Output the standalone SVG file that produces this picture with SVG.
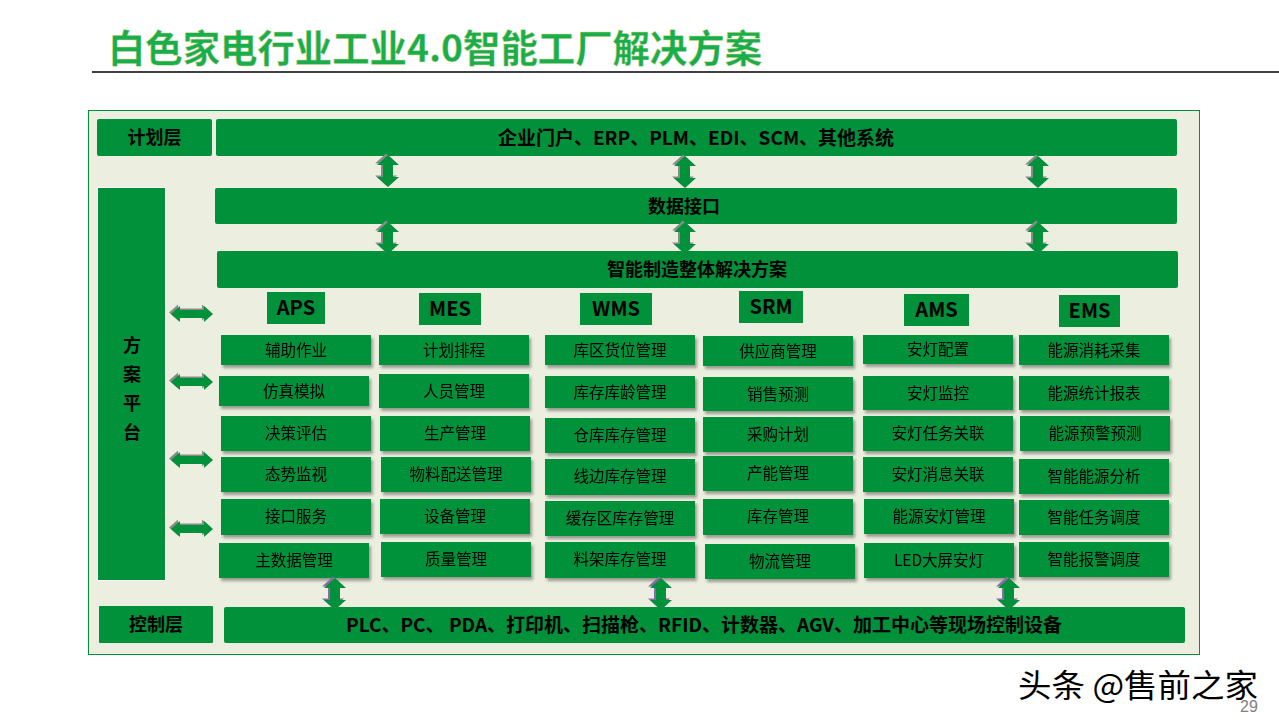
<svg xmlns="http://www.w3.org/2000/svg" width="1279" height="720" viewBox="0 0 1279 720">
<defs>
<style>
.g{fill:#00913A}
.hd{font-family:"Noto Sans CJK SC","Liberation Sans",sans-serif;font-weight:bold;font-size:18px;fill:#000;text-anchor:middle}
.bar{font-size:19px}
.it{font-family:"Noto Sans CJK SC","Liberation Sans",sans-serif;font-size:15.5px;fill:#000;text-anchor:middle}
.sys{font-family:"Noto Sans CJK SC","Liberation Sans",sans-serif;font-weight:bold;font-size:20px;fill:#000;text-anchor:middle}
</style>
<filter id="sh" x="-5%" y="-20%" width="112%" height="150%">
<feDropShadow dx="2" dy="3" stdDeviation="1.5" flood-color="#000" flood-opacity="0.35"/>
</filter>
<path id="va" d="M0,-16 L11,-6 L5,-6 L5,6 L11,6 L0,16 L-11,6 L-5,6 L-5,-6 L-11,-6 Z"/>
<path id="ha" d="M-21,0 L-12,-8 L-12,-4 L12,-4 L12,-8 L21,0 L12,8 L12,4 L-12,4 L-12,8 Z"/>
<g id="vArr"><use href="#va" x="-2" y="-1.5" fill="#8a8a8a"/><use href="#va" fill="#00913A"/></g>
<g id="vArrP"><use href="#va" x="-2" y="-1.5" fill="#8a6aa8"/><use href="#va" fill="#00913A"/></g>
<g id="hArr"><use href="#ha" x="-2" y="-1.5" fill="#8a8a8a"/><use href="#ha" fill="#00913A"/></g>
</defs>
<rect width="1279" height="720" fill="#fff"/>
<g id="title">
<text x="108" y="62" font-family="Noto Sans CJK SC, Liberation Sans, sans-serif" font-weight="bold" font-size="38" fill="#1AAE4A" stroke="#d8d89a" stroke-width="0.4" textLength="654" lengthAdjust="spacingAndGlyphs">白色家电行业工业4.0智能工厂解决方案</text>
<line x1="92" y1="72" x2="1279" y2="72" stroke="#000" stroke-width="1.5"/>
</g>
<rect id="frame" x="88.5" y="110.5" width="1111" height="544" fill="#ECEFE0" stroke="#00913A" stroke-width="1"/>

<g id="plan-layer"><rect class="g" x="97" y="119" width="115" height="37" rx="2"/><text class="hd" x="154.5" y="144">计划层</text></g>
<g id="top-systems"><rect class="g" x="216" y="119" width="961" height="37" rx="2"/><text class="hd bar" x="696" y="145">企业门户、ERP、PLM、EDI、SCM、其他系统</text></g>
<g id="data-interface"><rect class="g" x="215" y="188" width="962" height="36" rx="2"/><text class="hd" x="684" y="213">数据接口</text></g>
<g id="smart-manufacturing"><rect class="g" x="217" y="251" width="961" height="37" rx="2"/><text class="hd" x="697" y="276">智能制造整体解决方案</text></g>

<g id="solution-platform"><rect class="g" x="97.5" y="187.5" width="68" height="393" stroke="#fff" stroke-width="1"/>
<text class="hd" x="132" y="352">方</text><text class="hd" x="132" y="381">案</text><text class="hd" x="132" y="410">平</text><text class="hd" x="132" y="439">台</text></g>

<g id="headers">
<g id="aps"><rect class="g" x="267" y="292" width="58" height="32"/><text class="sys" x="296" y="315">APS</text></g>
<g id="mes"><rect class="g" x="419" y="293" width="62" height="32"/><text class="sys" x="450" y="316">MES</text></g>
<g id="wms"><rect class="g" x="580" y="293" width="72" height="32"/><text class="sys" x="616" y="316">WMS</text></g>
<g id="srm"><rect class="g" x="739" y="291" width="64" height="32"/><text class="sys" x="771" y="314">SRM</text></g>
<g id="ams"><rect class="g" x="904" y="294" width="65" height="32"/><text class="sys" x="936.5" y="317">AMS</text></g>
<g id="ems"><rect class="g" x="1059" y="295" width="61" height="32"/><text class="sys" x="1089.5" y="318">EMS</text></g>
</g>

<g id="aps-items" filter="url(#sh)">
<g id="aps-1"><rect class="g" x="221" y="335" width="150" height="30"/><text class="it" x="296" y="356">辅助作业</text></g>
<g id="aps-2"><rect class="g" x="219" y="376" width="150" height="30"/><text class="it" x="294" y="397">仿真模拟</text></g>
<g id="aps-3"><rect class="g" x="221" y="416" width="150" height="35"/><text class="it" x="296" y="439">决策评估</text></g>
<g id="aps-4"><rect class="g" x="221" y="457" width="150" height="35"/><text class="it" x="296" y="480">态势监视</text></g>
<g id="aps-5"><rect class="g" x="221" y="499" width="150" height="36"/><text class="it" x="296" y="522">接口服务</text></g>
<g id="aps-6"><rect class="g" x="219" y="543" width="150" height="35"/><text class="it" x="294" y="566">主数据管理</text></g>
</g>
<g id="mes-items" filter="url(#sh)">
<g id="mes-1"><rect class="g" x="379" y="335" width="150" height="30"/><text class="it" x="454" y="356">计划排程</text></g>
<g id="mes-2"><rect class="g" x="379" y="374" width="150" height="34"/><text class="it" x="454" y="397">人员管理</text></g>
<g id="mes-3"><rect class="g" x="380" y="416" width="150" height="35"/><text class="it" x="455" y="439">生产管理</text></g>
<g id="mes-4"><rect class="g" x="381" y="457" width="150" height="35"/><text class="it" x="456" y="480">物料配送管理</text></g>
<g id="mes-5"><rect class="g" x="380" y="499" width="150" height="35"/><text class="it" x="455" y="522">设备管理</text></g>
<g id="mes-6"><rect class="g" x="381" y="542" width="150" height="35"/><text class="it" x="456" y="565">质量管理</text></g>
</g>
<g id="wms-items" filter="url(#sh)">
<g id="wms-1"><rect class="g" x="545" y="335" width="150" height="30"/><text class="it" x="620" y="356">库区货位管理</text></g>
<g id="wms-2"><rect class="g" x="545" y="376" width="150" height="32"/><text class="it" x="620" y="398">库存库龄管理</text></g>
<g id="wms-3"><rect class="g" x="545" y="418" width="150" height="35"/><text class="it" x="620" y="441">仓库库存管理</text></g>
<g id="wms-4"><rect class="g" x="545" y="459" width="150" height="36"/><text class="it" x="620" y="482">线边库存管理</text></g>
<g id="wms-5"><rect class="g" x="545" y="501" width="150" height="35"/><text class="it" x="620" y="524">缓存区库存管理</text></g>
<g id="wms-6"><rect class="g" x="545" y="542" width="150" height="36"/><text class="it" x="620" y="565">料架库存管理</text></g>
</g>
<g id="srm-items" filter="url(#sh)">
<g id="srm-1"><rect class="g" x="703" y="336" width="150" height="30"/><text class="it" x="778" y="357">供应商管理</text></g>
<g id="srm-2"><rect class="g" x="703" y="377" width="150" height="34"/><text class="it" x="778" y="400">销售预测</text></g>
<g id="srm-3"><rect class="g" x="703" y="417" width="150" height="35"/><text class="it" x="778" y="440">采购计划</text></g>
<g id="srm-4"><rect class="g" x="703" y="456" width="150" height="35"/><text class="it" x="778" y="479">产能管理</text></g>
<g id="srm-5"><rect class="g" x="703" y="499" width="150" height="36"/><text class="it" x="778" y="522">库存管理</text></g>
<g id="srm-6"><rect class="g" x="705" y="544" width="150" height="35"/><text class="it" x="780" y="567">物流管理</text></g>
</g>
<g id="ams-items" filter="url(#sh)">
<g id="ams-1"><rect class="g" x="863" y="335" width="150" height="29"/><text class="it" x="938" y="355">安灯配置</text></g>
<g id="ams-2"><rect class="g" x="863" y="376" width="150" height="34"/><text class="it" x="938" y="399">安灯监控</text></g>
<g id="ams-3"><rect class="g" x="863" y="416" width="150" height="35"/><text class="it" x="938" y="439">安灯任务关联</text></g>
<g id="ams-4"><rect class="g" x="863" y="457" width="150" height="35"/><text class="it" x="938" y="480">安灯消息关联</text></g>
<g id="ams-5"><rect class="g" x="864" y="499" width="150" height="35"/><text class="it" x="939" y="522">能源安灯管理</text></g>
<g id="ams-6"><rect class="g" x="864" y="543" width="150" height="35"/><text class="it" x="939" y="566">LED大屏安灯</text></g>
</g>
<g id="ems-items" filter="url(#sh)">
<g id="ems-1"><rect class="g" x="1019" y="335" width="150" height="30"/><text class="it" x="1094" y="356">能源消耗采集</text></g>
<g id="ems-2"><rect class="g" x="1019" y="376" width="150" height="34"/><text class="it" x="1094" y="399">能源统计报表</text></g>
<g id="ems-3"><rect class="g" x="1020" y="416" width="150" height="35"/><text class="it" x="1095" y="439">能源预警预测</text></g>
<g id="ems-4"><rect class="g" x="1019" y="459" width="150" height="35"/><text class="it" x="1094" y="482">智能能源分析</text></g>
<g id="ems-5"><rect class="g" x="1019" y="500" width="150" height="35"/><text class="it" x="1094" y="523">智能任务调度</text></g>
<g id="ems-6"><rect class="g" x="1019" y="542" width="150" height="35"/><text class="it" x="1094" y="565">智能报警调度</text></g>
</g>

<g id="control-layer"><rect class="g" x="99" y="606" width="114" height="37" rx="1"/><text class="hd" x="156" y="631">控制层</text></g>
<g id="devices"><rect class="g" x="224" y="607" width="961" height="36" rx="2"/><text class="hd bar" x="704" y="632">PLC、PC、 PDA、打印机、扫描枪、RFID、计数器、AGV、加工中心等现场控制设备</text></g>

<g id="connectors">
<use href="#vArr" x="388" y="171"/>
<use href="#vArr" x="685" y="172"/>
<use href="#vArr" x="1038" y="172"/>
<use href="#vArr" x="388" y="238"/>
<use href="#vArr" x="685" y="238"/>
<use href="#vArr" x="1038" y="238"/>
<use href="#hArr" x="192" y="314"/>
<use href="#hArr" x="192" y="382"/>
<use href="#hArr" x="192" y="460"/>
<use href="#hArr" x="192" y="529"/>
<use href="#vArrP" x="335" y="594"/>
<use href="#vArrP" x="661" y="594"/>
<use href="#vArrP" x="1009" y="594"/>
</g>

<g id="watermark">
<text x="1018" y="697" font-family="Noto Sans CJK SC, sans-serif" font-size="32" fill="#000" stroke="#fff" stroke-width="0.8" paint-order="stroke" textLength="240" lengthAdjust="spacingAndGlyphs">头条 @售前之家</text>
<text x="1240" y="712" font-family="Liberation Sans, sans-serif" font-size="16" fill="#808080">29</text>
</g>
</svg>
